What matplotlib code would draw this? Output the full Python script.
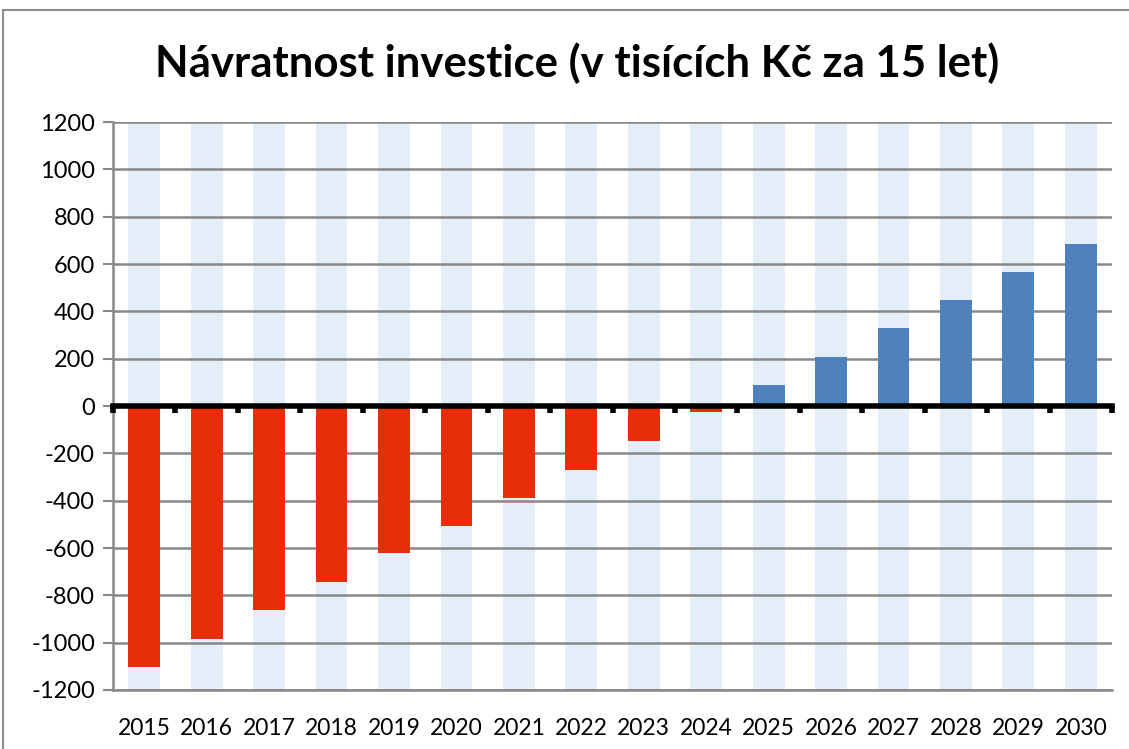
import numpy as np
import matplotlib.pyplot as plt
from matplotlib.patches import Rectangle

# data
years = [2015, 2016, 2017, 2018, 2019, 2020, 2021, 2022,
         2023, 2024, 2025, 2026, 2027, 2028, 2029, 2030]
values = [-1102, -984, -863, -744, -622, -506, -388, -269,
          -148, -27, 91, 209, 329, 447, 566, 685]
y_min, y_max = -1200, 1200
title = "Návratnost investice (v tisících Kč za 15 let)"

red = "#E62E0B"
blue = "#4F81BD"
band = "#E4EEF8"
grid_gray = "#888888"

plt.rcParams['font.family'] = ['Lato', 'DejaVu Sans']
plt.rcParams['axes.unicode_minus'] = False

fig = plt.figure(figsize=(11.29, 7.49), dpi=100)
ax = fig.add_axes([0.1001, 0.0788, 0.8849, 0.7582])

x = np.arange(len(years))
w = 0.51

# light background bands behind every bar
ax.bar(x, y_max - y_min, bottom=y_min, width=w, color=band, zorder=0)

colors = [red if v < 0 else blue for v in values]
ax.bar(x, values, width=w, color=colors, zorder=3)

ax.set_xlim(-0.5, len(years) - 0.5)
ax.set_ylim(y_min, y_max)
ax.set_yticks(np.arange(y_min, y_max + 1, 200))
ax.yaxis.grid(True, color=grid_gray, linewidth=1.8, zorder=1)
ax.set_axisbelow(True)

ax.set_xticks(x)
ax.set_xticklabels([str(y) for y in years])
ax.tick_params(axis='x', length=0, pad=20, labelsize=16.5)
ax.tick_params(axis='y', length=7, width=1.5, color=grid_gray, labelsize=17, pad=6)

for s in ['top', 'right']:
    ax.spines[s].set_visible(False)
ax.spines['left'].set_color(grid_gray)
ax.spines['left'].set_linewidth(1.8)
ax.spines['bottom'].set_color(grid_gray)
ax.spines['bottom'].set_linewidth(1.8)

# thick zero axis with category boundary ticks
zero = ax.secondary_xaxis(0, transform=ax.transData)
zero.set_xticks(np.arange(len(years) + 1) - 0.5)
zero.tick_params(axis='x', length=5, width=4, color='black', labelbottom=False)
zero.spines['bottom'].set_color('black')
zero.spines['bottom'].set_linewidth(4)
zero.set_zorder(5)

fig.text(0.511, 0.915, title, ha='center', va='center',
         fontsize=31.5, fontweight='bold')

# chart frame
fig.patches.append(Rectangle((3 / 1129, -0.1), 1.2, 1.1 - 10.5 / 749,
                             transform=fig.transFigure, fill=False,
                             edgecolor='#8c8c8c', linewidth=1.5))

fig.savefig("out.png", dpi=100)
